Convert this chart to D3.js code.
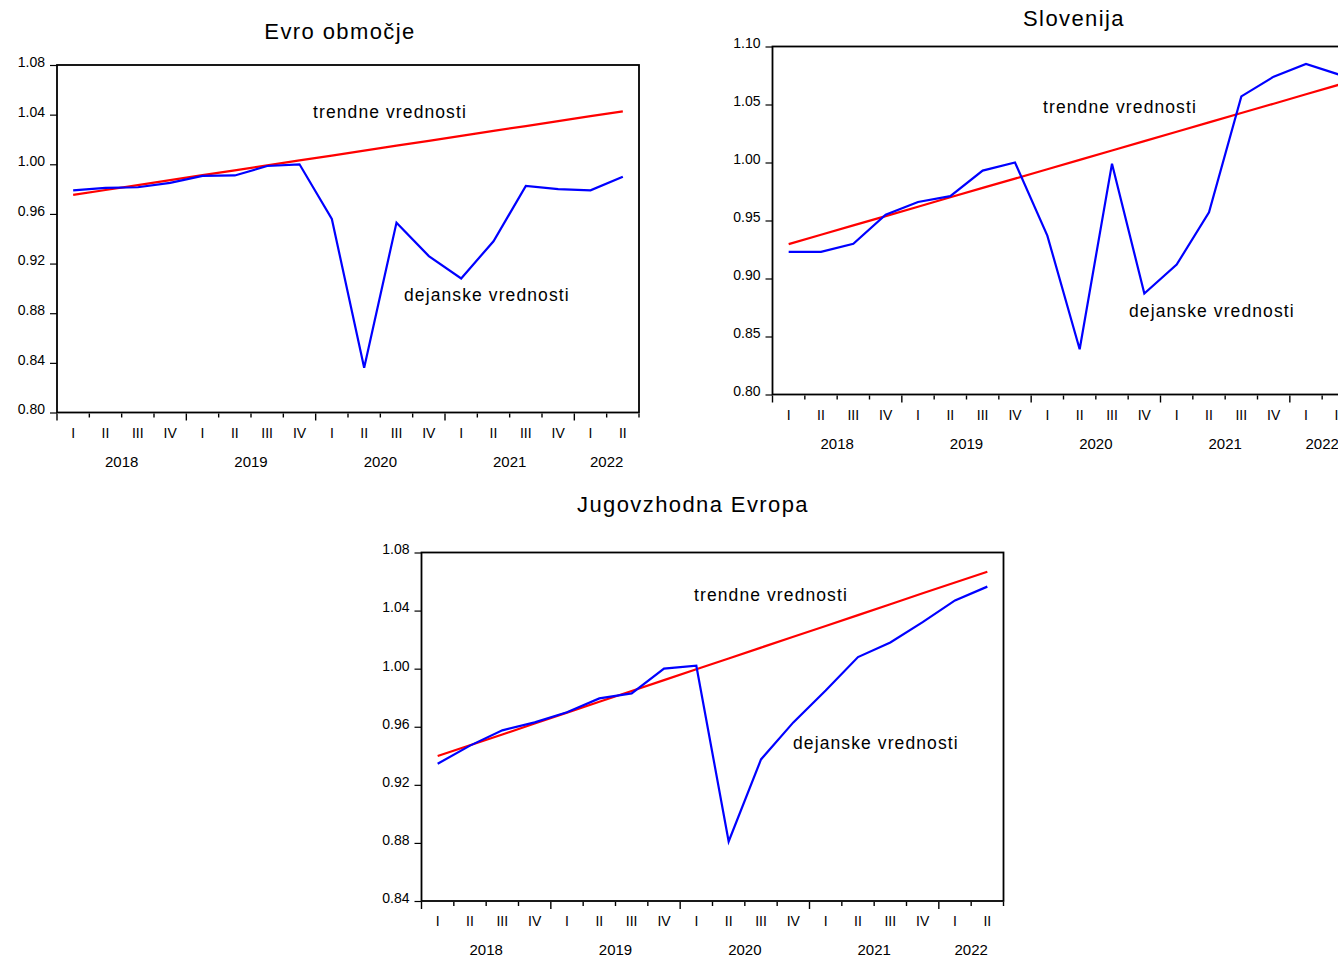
<!DOCTYPE html>
<html>
<head>
<meta charset="utf-8">
<script src="https://cdn.jsdelivr.net/npm/d3@7"></script>
<style>
  body { margin: 0; background: #fff; }
  svg { display: block; font-family: "Liberation Sans", Arial, sans-serif; }
</style>
</head>
<body>
<svg width="1338" height="957"></svg>
<script>
// quarters 2018 Q1 .. 2022 Q2
const years = [2018, 2019, 2020, 2021, 2022];
const quarterLabels = ['I', 'II', 'III', 'IV'];
const periods = ['2018-I', '2018-II', '2018-III', '2018-IV', '2019-I', '2019-II', '2019-III', '2019-IV',
  '2020-I', '2020-II', '2020-III', '2020-IV', '2021-I', '2021-II', '2021-III', '2021-IV', '2022-I', '2022-II'];

const evroActual = [0.979, 0.981, 0.9815, 0.985, 0.9906, 0.991, 0.9986, 1.000, 0.956, 0.836,
  0.953, 0.926, 0.908, 0.938, 0.9825, 0.980, 0.979, 0.990];
const evroTrend = [0.9753, 0.9793, 0.9832, 0.9872, 0.9912, 0.9951, 0.9991, 1.0031, 1.0070, 1.0110,
  1.0150, 1.0189, 1.0229, 1.0269, 1.0308, 1.0348, 1.0388, 1.0427];
const evroTicks = [0.80, 0.84, 0.88, 0.92, 0.96, 1.00, 1.04, 1.08];

const sloActual = [0.923, 0.923, 0.930, 0.955, 0.966, 0.971, 0.993, 1.000, 0.937, 0.839,
  0.999, 0.887, 0.912, 0.957, 1.057, 1.074, 1.085, 1.076];
const sloTrend = [0.9296, 0.9377, 0.9458, 0.9538, 0.9619, 0.9700, 0.9781, 0.9861, 0.9942, 1.0023,
  1.0104, 1.0184, 1.0265, 1.0346, 1.0427, 1.0507, 1.0588, 1.0669];
const sloTicks = [0.80, 0.85, 0.90, 0.95, 1.00, 1.05, 1.10];

const jveActual = [0.9345, 0.947, 0.9575, 0.963, 0.970, 0.9795, 0.983, 1.000, 1.002, 0.881,
  0.9375, 0.963, 0.985, 1.008, 1.018, 1.032, 1.047, 1.0565];
const jveTrend = [0.9398, 0.9473, 0.9547, 0.9622, 0.9697, 0.9772, 0.9846, 0.9921, 0.9996, 1.0070,
  1.0145, 1.0220, 1.0294, 1.0369, 1.0444, 1.0519, 1.0593, 1.0668];
const jveTicks = [0.84, 0.88, 0.92, 0.96, 1.00, 1.04, 1.08];

const panels = [
  { title: 'Evro območje', actual: evroActual, trend: evroTrend, ticks: evroTicks,
    left: 57, top: 65, bottom: 412.5, titleX: 340, titleY: 38.5,
    trendLbl: [313, 117.7], actLbl: [404, 301] },
  { title: 'Slovenija', actual: sloActual, trend: sloTrend, ticks: sloTicks,
    left: 772.5, top: 46.5, bottom: 394.5, titleX: 1074, titleY: 26,
    trendLbl: [1043, 112.7], actLbl: [1129, 316.7] },
  { title: 'Jugovzhodna Evropa', actual: jveActual, trend: jveTrend, ticks: jveTicks,
    left: 421.5, top: 552.5, bottom: 901, titleX: 693, titleY: 512,
    trendLbl: [694, 600.7], actLbl: [793, 749] }
];

const plotWidth = 582;
const svg = d3.select('svg');

panels.forEach(p => {
  const g = svg.append('g');

  const x = d3.scaleBand()
    .domain(periods)
    .range([p.left, p.left + plotWidth])
    .padding(0);

  const y = d3.scaleLinear()
    .domain([p.ticks[0], p.ticks[p.ticks.length - 1]])
    .range([p.bottom, p.top]);

  // y axis, ticks to the left
  const yAxis = g.append('g')
    .attr('transform', `translate(${p.left},0)`)
    .call(d3.axisLeft(y).tickValues(p.ticks).tickFormat(d3.format('.2f')).tickSize(7).tickPadding(5).tickSizeOuter(0));
  yAxis.select('.domain').remove();
  yAxis.selectAll('line').attr('stroke', '#000').attr('stroke-width', 1.2);
  yAxis.selectAll('text')
    .attr('font-family', '"Liberation Sans", Arial, sans-serif')
    .attr('font-size', '14px')
    .attr('fill', '#000')
    .attr('dy', '0.1em');

  // quarter boundary ticks below frame
  const bounds = periods.map((d, i) => ({ x: x(d), yearStart: i % 4 === 0 }));
  bounds.push({ x: p.left + plotWidth, yearStart: false });
  g.selectAll('.qtick')
    .data(bounds)
    .enter().append('line')
    .attr('x1', d => d.x).attr('x2', d => d.x)
    .attr('y1', p.bottom + 1)
    .attr('y2', d => p.bottom + (d.yearStart ? 8 : 5))
    .attr('stroke', '#000')
    .attr('stroke-width', 1.4);

  // roman quarter labels
  g.selectAll('.qlbl')
    .data(periods)
    .enter().append('text')
    .attr('x', d => x(d) + x.bandwidth() / 2)
    .attr('y', p.bottom + 25)
    .attr('text-anchor', 'middle')
    .attr('font-size', '14px')
    .text(d => d.split('-')[1]);

  // year labels centred on their quarters
  g.selectAll('.ylbl')
    .data(years)
    .enter().append('text')
    .attr('x', yr => {
      const qs = periods.filter(d => d.startsWith(yr));
      return (x(qs[0]) + x(qs[qs.length - 1]) + x.bandwidth()) / 2;
    })
    .attr('y', p.bottom + 54)
    .attr('text-anchor', 'middle')
    .attr('font-size', '15px')
    .text(yr => yr);

  // frame
  g.append('rect')
    .attr('x', p.left).attr('y', p.top)
    .attr('width', plotWidth).attr('height', p.bottom - p.top)
    .attr('fill', 'none')
    .attr('stroke', '#000')
    .attr('stroke-width', 1.8);

  const line = d3.line()
    .x((d, i) => x(periods[i]) + x.bandwidth() / 2)
    .y(d => y(d));

  g.append('path')
    .datum(p.trend)
    .attr('d', line)
    .attr('fill', 'none')
    .attr('stroke', '#ff0000')
    .attr('stroke-width', 2.2);

  g.append('path')
    .datum(p.actual)
    .attr('d', line)
    .attr('fill', 'none')
    .attr('stroke', '#0000ff')
    .attr('stroke-width', 2.2)
    .attr('stroke-linejoin', 'miter');

  // title
  g.append('text')
    .attr('x', p.titleX).attr('y', p.titleY)
    .attr('text-anchor', 'middle')
    .attr('font-size', '22px')
    .attr('letter-spacing', '1.4px')
    .text(p.title);

  // annotations
  g.append('text')
    .attr('x', p.trendLbl[0]).attr('y', p.trendLbl[1])
    .attr('font-size', '17.5px')
    .attr('letter-spacing', '1.1px')
    .text('trendne vrednosti');

  g.append('text')
    .attr('x', p.actLbl[0]).attr('y', p.actLbl[1])
    .attr('font-size', '17.5px')
    .attr('letter-spacing', '1.1px')
    .text('dejanske vrednosti');
});
</script>
</body>
</html>
